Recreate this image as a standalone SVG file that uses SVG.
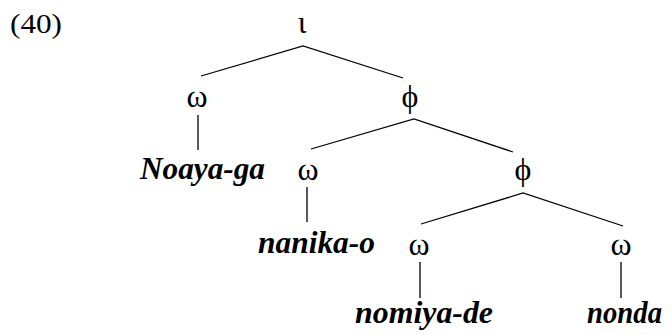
<svg xmlns="http://www.w3.org/2000/svg" width="672" height="335" viewBox="0 0 672 335">
<style>
.e{stroke:#000;stroke-width:1.3;fill:none}
</style>
<rect width="672" height="335" fill="#fff"/>
<g font-family="Liberation Serif, serif" font-size="31" fill="#000">
<g id="label"><text x="10" y="33" font-size="28" textLength="52" lengthAdjust="spacingAndGlyphs">(40)</text></g>
<g text-anchor="middle" font-size="32">
<g id="iota"><text x="302" y="33">ι</text></g>
<g id="omega1"><text x="197" y="107">ω</text></g>
<g id="phi1"><text x="410" y="107">ϕ</text></g>
<g id="omega2"><text x="308" y="180">ω</text></g>
<g id="phi2"><text x="523" y="180">ϕ</text></g>
<g id="omega3"><text x="419" y="255">ω</text></g>
<g id="omega4"><text x="621" y="255">ω</text></g>
</g>
<g font-weight="bold" font-style="italic">
<g id="noaya"><text x="140" y="179" textLength="125" lengthAdjust="spacingAndGlyphs">Noaya-ga</text></g>
<g id="nanika"><text x="258" y="253" textLength="117" lengthAdjust="spacingAndGlyphs">nanika-o</text></g>
<g id="nomiya"><text x="355" y="323" textLength="138" lengthAdjust="spacingAndGlyphs">nomiya-de</text></g>
<g id="nonda"><text x="587" y="323" textLength="75" lengthAdjust="spacingAndGlyphs">nonda</text></g>
</g>
</g>
<g id="connectors" class="e">
<polyline points="201,76 303,46 403,78"/>
<line x1="198" y1="115" x2="198" y2="150"/>
<polyline points="311,149 414,119 513,152"/>
<line x1="307" y1="187" x2="307" y2="222"/>
<polyline points="421,224 523,193 623,226"/>
<line x1="420" y1="262" x2="420" y2="298"/>
<line x1="621" y1="262" x2="621" y2="298"/>
</g>
</svg>
